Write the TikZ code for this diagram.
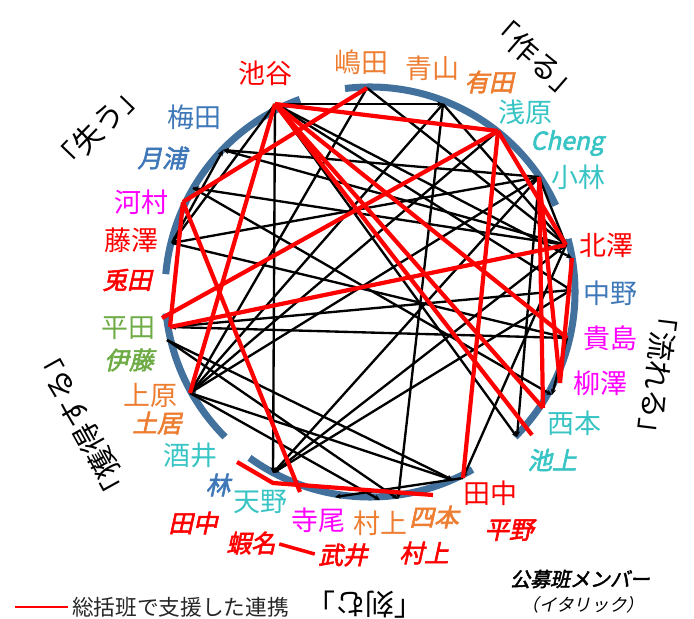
\documentclass[tikz,border=0pt]{standalone}
\usepackage{fontspec}
\usepackage{tikz}
\usetikzlibrary{calc,arrows.meta}
\newfontfamily\jp{Noto Sans CJK JP}
\newfontfamily\jpit[FakeSlant=0.22,FakeBold=2.4]{Noto Sans CJK JP}
\newfontfamily\jpsl[FakeSlant=0.22]{Noto Sans CJK JP}
\definecolor{arcblue}{HTML}{41719C}
\definecolor{orng}{HTML}{ED7D31}
\definecolor{cyn}{HTML}{38C4C4}
\definecolor{blu}{HTML}{3F78B8}
\definecolor{mag}{HTML}{FF00FF}
\definecolor{grn}{HTML}{6FAC46}

\begin{document}
\begin{tikzpicture}[x=0.03cm,y=-0.03cm,
    nm/.style={font=\jp\fontsize{23}{26}\selectfont, inner sep=0pt},
    it/.style={font=\jpit\fontsize{21}{24}\selectfont, inner sep=0pt},
    grp/.style={font=\jp\fontsize{25}{28}\selectfont, inner sep=0pt},
    blk/.style={line width=2pt, -{Stealth[length=5pt,width=4.5pt]}},
    rd/.style={line width=3.6pt, red},
    arcb/.style={line width=6pt, draw=arcblue}]
			%%%%% START %%%%%
			\useasboundingbox (0,0) rectangle (694,619);
			\coordinate (C) at (370,292);
			
			% group arcs
			\draw[arcb] ($(C)+(-110:205)$) arc[start angle=-110, end angle=-175, radius=205];
			\draw[arcb] ($(C)+(-97:205)$) arc[start angle=-97, end angle=-25, radius=205];
			\draw[arcb] ($(C)+(-15:205)$) arc[start angle=-15, end angle=45, radius=205];
			\draw[arcb] ($(C)+(60:205)$) arc[start angle=60, end angle=126, radius=205];
			\draw[arcb] ($(C)+(135:205)$) arc[start angle=135, end angle=174, radius=205];
			
			% member points
			\coordinate (ike) at (275,104);
			\coordinate (shima) at (367,88);
			\coordinate (ao) at (443,104);
			\coordinate (asa) at (498,131);
			\coordinate (koba) at (539,177);
			\coordinate (kita) at (566,245);
			\coordinate (kitaB) at (572,258);
			\coordinate (naka) at (571,290);
			\coordinate (kiji) at (567,338);
			\coordinate (yana) at (560,383);
			\coordinate (yanaB) at (552,395);
			\coordinate (nishi) at (543,408);
			\coordinate (ikeg) at (532,435);
			\coordinate (ikegB) at (517,437);
			\coordinate (tana) at (463,478);
			\coordinate (tanaB) at (453,480);
			\coordinate (shihon) at (433,495);
			\coordinate (mura) at (398,499);
			\coordinate (muraB) at (380,500);
			\coordinate (teraB) at (335,497);
			\coordinate (tera) at (300,492);
			\coordinate (amaR) at (273,483);
			\coordinate (ama) at (273,473);
			\coordinate (sakai) at (237,462);
			\coordinate (ue) at (190,393);
			\coordinate (hira) at (162,318);
			\coordinate (hiraB) at (170,327);
			\coordinate (hiraC) at (167,340);
			\coordinate (fuji) at (172,243);
			\coordinate (kawa) at (183,202);
			\coordinate (tsuki) at (193,188);
			\coordinate (ume) at (223,150);
			
			% links
			\draw[blk] (ike) -- (ama);
			\draw[blk] (ike) -- (ao);
			\draw[blk] (ike) -- (kitaB);
			\draw[blk] (ike) -- (naka);
			\draw[blk] (ike) -- (ikegB);
			\draw[blk] (ike) -- (fuji);
			\draw[blk] (shima) -- (ue);
			\draw[blk] (shima) -- (kita);
			\draw[blk] (ao) -- (mura);
			\draw[blk] (ao) -- (ue);
			\draw[blk] (ao) -- (kita);
			\draw[blk] (koba) -- (ikegB);
			\draw[blk] (koba) -- (ama);
			\draw[blk] (koba) -- (fuji);
			\draw[blk] (koba) -- (ume);
			\draw[blk] (koba) -- (kita);
			\draw[blk] (koba) -- (ue);
			\draw[blk] (asa) -- (ue);
			\draw[blk] (ue) -- (muraB);
			\draw[blk] (ue) -- (tanaB);
			\draw[blk] (hiraC) -- (mura);
			\draw[blk] (hiraC) -- (tanaB);
			\draw[blk] (naka) -- (hiraB);
			\draw[blk] (kiji) -- (hiraB);
			\draw[blk] (kita) -- (ama);
			\draw[blk] (naka) -- (ama);
			\draw[blk] (kita) -- (tana);
			\draw[blk] (kita) -- (tsuki);
			\draw[blk] (kita) -- (ume);
			\draw[blk] (fuji) -- (ume);
			\draw[blk] (fuji) -- (kiji);
			\draw[blk] (tsuki) -- (yanaB);
			\draw[blk] (tana) -- (teraB);
			\draw[blk] (kiji) -- (yanaB);
			
			\draw[rd] (ike) -- (asa);
			\draw[rd] (shima) -- (kawa);
			\draw[rd] (asa) -- (hira);
			\draw[rd] (asa) -- (kita);
			\draw[rd] (asa) -- (tana);
			\draw[rd] (koba) -- (nishi);
			\draw[rd] (koba) -- (yana);
			\draw[rd] (kita) -- (hiraB);
			\draw[rd] (kitaB) -- (yana);
			\draw[rd] (ike) -- (kiji);
			\draw[rd] (ike) -- (nishi);
			\draw[rd] (ike) -- (ikeg);
			\draw[rd] (ike) -- (ue);
			\draw[rd] (kawa) -- (hiraB);
			\draw[rd] (kawa) -- (tera);
			\draw[rd] (sakai) -- (amaR) -- (shihon);
			
			% names
			\node[nm, red] (lIke) at (265,73) {池谷};
			\node[nm, orng] (lShima) at (361,62) {嶋田};
			\node[nm, orng] (lAo) at (432,68) {青山};
			\node[it, orng] (lArita) at (489,82) {有田};
			\node[nm, cyn] (lAsa) at (525,112) {浅原};
			\node[it, cyn] (lCheng) at (567,143) {Cheng};
			\node[nm, cyn] (lKoba) at (578,177) {小林};
			\node[nm, red] (lKita) at (606,245) {北澤};
			\node[nm, blu] (lNaka) at (610,293) {中野};
			\node[nm, mag] (lKiji) at (610,338) {貴島};
			\node[nm, mag] (lYana) at (600,383) {柳澤};
			\node[nm, cyn] (lNishi) at (574,423) {西本};
			\node[it, cyn] (lIkeg) at (552,460) {池上};
			\node[nm, red] (lTana) at (490,493) {田中};
			\node[it, red] (lHirano) at (509,530) {平野};
			\node[it, orng] (lShihon) at (434,517) {四本};
			\node[nm, orng] (lMura) at (380,523) {村上};
			\node[it, red] (lMuraI) at (424,553) {村上};
			\node[it, red] (lTakei) at (343,555) {武井};
			\node[it, red] (lEbina) at (251,543) {蝦名};
			\node[nm, mag] (lTera) at (318,520) {寺尾};
			\node[nm, cyn] (lAma) at (260,502) {天野};
			\node[it, red] (lTanaI) at (193,523) {田中};
			\node[it, blu] (lHaya) at (218,485) {林};
			\node[nm, cyn] (lSakai) at (190,455) {酒井};
			\node[it, orng] (lDoi) at (157,423) {土居};
			\node[nm, orng] (lUe) at (150,395) {上原};
			\node[it, grn] (lIto) at (129,360) {伊藤};
			\node[nm, grn] (lHira) at (128,328) {平田};
			\node[it, red] (lUsa) at (127,280) {兎田};
			\node[nm, red] (lFuji) at (131,240) {藤澤};
			\node[nm, mag] (lKawa) at (141,202) {河村};
			\node[it, blu] (lTsuki) at (162,158) {月浦};
			\node[nm, blu] (lUme) at (194,117) {梅田};
			\draw[rd, line width=3pt, shorten <=3pt, shorten >=3pt] (lEbina.east) -- (lTakei.west);
			
			% group labels
			\node[grp, rotate=46] (gLose) at (98,128) {「失う」};
			\node[grp, rotate=-41] (gMake) at (535,57) {「作る」};
			\node[grp, rotate=-97] (gFlow) at (658,375) {「流れる」};
			\node[grp, rotate=180] (gCarve) at (365,605) {「刻む」};
			\node[grp, rotate=119] (gGain) at (82,425) {「獲得する」};
			
			% legend
			\coordinate (legA) at (15,607);
			\coordinate (legB) at (68,607);
			\draw[red, line width=2pt] (legA) -- (legB);
			\node[anchor=west, inner sep=0pt, font=\jp\fontsize{18.5}{22}\selectfont, black!85] (legT) at (72,607) {総括班で支援した連携};
			\node[inner sep=0pt, font=\jpit\fontsize{17}{20}\selectfont] (note1) at (580,579) {公募班メンバー};
			\node[inner sep=0pt, font=\jpsl\fontsize{15}{18}\selectfont] (note2) at (583,605) {（イタリック）};
			%%%%% END %%%%%
\end{tikzpicture}
\end{document}
